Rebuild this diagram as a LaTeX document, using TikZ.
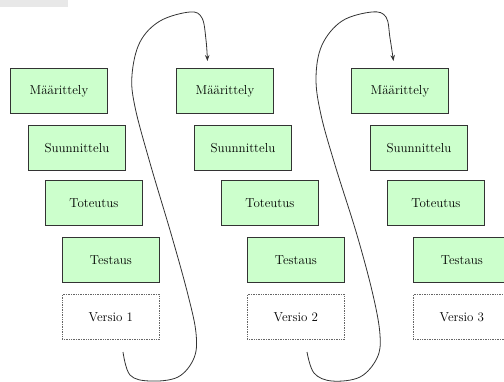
\documentclass[tikz,border=0pt]{standalone}
\usetikzlibrary{arrows.meta}
\definecolor{boxgreen}{RGB}{204,255,204}
\definecolor{barGray}{RGB}{232,232,232}
\begin{document}
\begin{tikzpicture}[x=1bp,y=-1bp,
  phase/.style={draw=black!80, line width=0.9bp, fill=boxgreen,
    minimum width=97bp, minimum height=45bp, inner sep=0pt,
    anchor=north west, font=\fontsize{13}{15}\selectfont},
  versio/.style={phase, fill=white, draw=black!60, line width=0.7bp,
    dash pattern=on 0.8bp off 0.9bp},
  loopline/.style={draw=black!80, line width=0.8bp,
    -{Stealth[length=6bp,width=4.5bp]}}]
\useasboundingbox (0,0) rectangle (504,381);
\clip (0,0) rectangle (504,381);
\fill[barGray] (0,0) rectangle (68,7);

% column 1
\node[phase]  (m1) at (10,68)  {Määrittely};
\node[phase]  (s1) at (28,125) {Suunnittelu};
\node[phase]  (t1) at (45,180) {Toteutus};
\node[phase]  (e1) at (62,237) {Testaus};
\node[versio] (v1) at (62,294) {Versio 1};
% column 2
\node[phase]  (m2) at (176,68)  {Määrittely};
\node[phase]  (s2) at (194,125) {Suunnittelu};
\node[phase]  (t2) at (221,180) {Toteutus};
\node[phase]  (e2) at (247,237) {Testaus};
\node[versio] (v2) at (247,294) {Versio 2};
% column 3
\node[phase]  (m3) at (351,68)  {Määrittely};
\node[phase]  (s3) at (370,125) {Suunnittelu};
\node[phase]  (t3) at (387,180) {Toteutus};
\node[phase]  (e3) at (413,237) {Testaus};
\node[versio] (v3) at (413,294) {Versio 3};

% loops
\coordinate (a1s) at (123,352);
\coordinate (a1e) at ([shift={(-17.5,-7)}]m2.north);
\coordinate (a2s) at (307,352);
\coordinate (a2e) at ([shift={(-6.5,-7)}]m3.north);

\draw[loopline] plot[smooth, tension=0.6] coordinates {
  (a1s) (130,375) (150,381) (178,377) (194,358) (196,333) (188,295)
  (172,237) (150,163) (135,107) (132,75) (140,42) (160,21)
  (190,12) (202,18) (206,40) (a1e)};

\draw[loopline] plot[smooth, tension=0.6] coordinates {
  (a2s) (314,373) (332,381) (360,377) (377,358) (380,335) (373,295)
  (357,235) (335,165) (321,115) (316,78) (322,45) (342,21)
  (372,12) (386,17) (390,38) (a2e)};
\end{tikzpicture}
\end{document}
